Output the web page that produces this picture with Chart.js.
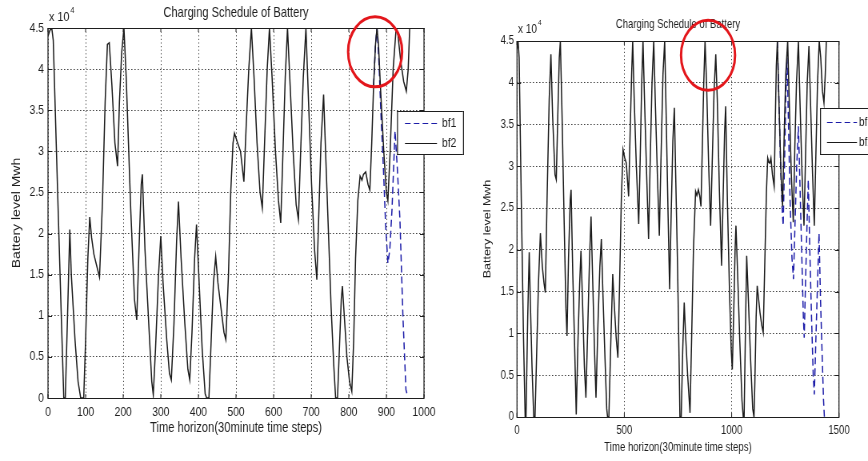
<!DOCTYPE html>
<html>
<head>
<meta charset="utf-8">
<script src="https://cdn.jsdelivr.net/npm/chart.js@4.4.1/dist/chart.umd.min.js"></script>
<style>
  html, body { margin: 0; padding: 0; background: #fff; }
  #wrap { position: relative; width: 868px; height: 461px; overflow: hidden; }
  canvas { position: absolute; top: 0; }
</style>
</head>
<body>
<div id="wrap">
  <!-- the original figure is squeezed sideways, so the canvases are drawn wider and shown narrower -->
  <canvas id="left" width="590" height="461" style="left:0;width:472px;height:461px"></canvas>
  <canvas id="right" width="495" height="461" style="left:472px;width:396px;height:461px"></canvas>
</div>
<script>
// battery level in units of 10^4 Mwh, time in 30 minute steps: [step, level]
const bf2Left = [[0,4.40],[5,4.47],[10,4.5],[14,4.35],[25,2.6],[36,0.9],[42,0],[46,0],[52,1.0],[58,2.05],
  [62,1.5],[72,0.7],[80,0.2],[87,0],[95,0],[100,0.7],[106,1.7],[111,2.2],[116,1.95],[122,1.75],[130,1.6],
  [137,1.47],[145,2.4],[152,3.6],[158,4.3],[163,4.32],[170,3.8],[178,3.1],[185,2.82],[190,3.6],[196,4.2],
  [202,4.5],[208,3.9],[220,2.3],[230,1.2],[236,0.95],[242,1.8],[248,2.6],[251,2.72],[258,1.8],[268,0.9],
  [276,0.2],[280,0.04],[286,0.6],[294,1.5],[300,1.97],[306,1.4],[316,0.7],[323,0.3],[328,0.22],[335,0.9],
  [342,1.9],[347,2.39],[354,1.7],[364,0.9],[372,0.35],[377,0.22],[383,0.8],[390,1.7],[395,2.11],[402,1.4],
  [410,0.6],[418,0.05],[422,0],[428,0],[434,0.7],[440,1.4],[446,1.72],[452,1.4],[460,1.1],[468,0.8],
  [473,0.71],[480,1.5],[486,2.5],[492,3.1],[496,3.22],[503,3.12],[512,3.0],[521,2.63],[527,3.3],[534,4.0],
  [541,4.5],[548,3.9],[556,3.1],[564,2.5],[570,2.31],[576,3.1],[583,4.0],[589,4.5],[596,3.9],[605,3.0],
  [613,2.4],[619,2.13],[625,3.0],[631,3.9],[637,4.5],[644,3.8],[652,3.0],[660,2.35],[666,2.17],[672,3.0],
  [679,3.9],[686,4.5],[693,3.6],[701,2.6],[709,1.8],[715,1.44],[720,2.2],[726,3.1],[733,3.69],[739,2.9],
  [746,2.0],[753,1.1],[760,0.4],[765,0],[770,0],[775,0.6],[780,1.2],[783,1.36],[788,1.0],[795,0.5],
  [802,0.2],[808,0.08],[813,0.7],[818,1.7],[824,2.4],[830,2.7],[835,2.65],[839,2.72],[845,2.75],[851,2.6],
  [856,2.53],[861,3.1],[866,3.8],[871,4.3],[875,4.5],[879,4.3],[884,3.8],[893,3.0],[900,2.5],[904,2.4],
  [910,3.0],[918,4.0],[926,4.5],[930,4.45],[938,4.1],[946,3.85],[953,3.73],[958,4.0],[962,4.5]];

const bf1Left = [[866,3.8],[871,4.3],[875,4.5],[880,4.1],[886,3.4],[892,2.8],[898,2.1],[904,1.64],
  [909,1.8],[915,2.3],[923,3.25],[929,2.8],[936,2.17],[944,0.99],[952,0.1],[955,0.05]];

const bf2Right = [[0,4.4],[5,4.5],[10,4.3],[20,2.6],[30,1.0],[38,0],[42,0],[50,1.2],[57,1.97],[62,1.4],
  [70,0.6],[78,0],[84,0],[92,0.8],[100,1.6],[109,2.2],[118,1.8],[126,1.6],[132,1.49],[140,2.6],[150,3.8],
  [158,4.34],[166,3.6],[177,2.9],[183,2.84],[190,3.6],[197,4.3],[202,4.5],[210,3.6],[220,2.3],[228,1.3],
  [233,0.97],[240,1.9],[248,2.6],[252,2.72],[260,1.7],[268,0.9],[276,0.03],[284,0.9],[292,1.6],[298,1.99],
  [305,1.4],[314,0.6],[321,0.23],[330,1.1],[338,1.9],[345,2.4],[352,1.7],[361,0.8],[368,0.23],[377,1.1],
  [386,1.8],[393,2.13],[400,1.5],[410,0.7],[418,0.1],[422,0],[428,0],[436,0.8],[446,1.71],[452,1.4],
  [462,0.95],[470,0.71],[478,1.6],[486,2.6],[494,3.2],[502,3.1],[509,3.04],[520,2.64],[527,3.4],[534,4.1],
  [539,4.5],[546,3.8],[556,3.0],[567,2.31],[574,3.1],[581,4.0],[587,4.5],[594,3.8],[604,2.9],[613,2.13],
  [620,3.0],[629,4.0],[637,4.5],[644,3.8],[654,2.9],[663,2.17],[670,3.0],[680,4.1],[688,4.5],[695,3.6],
  [704,2.4],[711,1.53],[718,2.4],[726,3.3],[733,3.70],[740,2.8],[748,1.8],[755,0.7],[759,0],[765,0],
  [772,0.8],[779,1.37],[785,1.0],[795,0.5],[806,0.05],[814,1.0],[822,2.0],[832,2.7],[838,2.65],[845,2.72],
  [851,2.65],[857,2.52],[864,3.3],[870,4.0],[876,4.5],[883,4.0],[893,3.0],[902,2.29],[909,3.0],[918,3.9],
  [926,4.34],[933,3.8],[943,2.7],[953,1.81],[960,2.6],[967,3.4],[972,3.72],[980,2.6],[990,1.5],[998,0.8],
  [1003,0.57],[1010,1.3],[1016,2.0],[1020,2.29],[1028,1.7],[1038,0.9],[1048,0.2],[1054,0],[1058,0],
  [1064,1.0],[1070,1.93],[1078,1.4],[1088,0.7],[1098,0.1],[1104,0],[1108,0.4],[1114,1.2],[1119,1.57],
  [1126,1.4],[1132,1.25],[1140,1.1],[1147,1.01],[1154,1.8],[1162,2.7],[1168,3.1],[1173,3.05],[1178,3.04],
  [1183,3.1],[1190,2.9],[1198,2.76],[1203,3.5],[1208,4.2],[1213,4.5],[1220,3.8],[1230,2.9],[1237,2.52],
  [1244,3.3],[1252,4.1],[1261,4.5],[1268,3.8],[1278,2.9],[1287,2.33],[1294,3.2],[1302,4.0],[1311,4.5],
  [1318,3.8],[1328,2.9],[1337,2.29],[1344,3.1],[1352,4.0],[1360,4.44],[1367,3.8],[1377,2.9],[1385,2.29],
  [1392,3.1],[1400,4.0],[1408,4.5],[1415,4.3],[1423,3.9],[1430,3.76],[1436,4.1],[1441,4.5]];

const bf1Right = [[1213,4.5],[1220,3.8],[1228,3.0],[1235,2.5],[1240,2.29],[1246,3.0],[1252,3.8],[1258,4.3],
  [1264,3.6],[1272,2.6],[1281,1.9],[1288,1.65],[1295,2.3],[1303,3.0],[1311,3.48],[1318,2.8],[1327,1.9],
  [1334,1.2],[1338,0.95],[1344,1.6],[1351,2.3],[1357,2.84],[1364,2.0],[1372,1.2],[1380,0.5],[1385,0.27],
  [1392,0.9],[1400,1.6],[1407,2.2],[1414,1.4],[1422,0.7],[1428,0.2],[1432,0]];

const seriesNames = ['bf1', 'bf2'];
const chartTitle = 'Charging Schedule of Battery';
const xTitle = 'Time horizon(30minute time steps)';
const yTitle = 'Battery level Mwh';
const yMax = 4.5, yStep = 0.5;

const SX = 1.25; // canvas px per screen px, sideways only
const FONT = '"Liberation Sans", Arial, Helvetica, sans-serif';
const INK = '#1e1e1e';
const BLUE = '#1c1ca8';

// matlab style frame: box, inner ticks, titles, legend and the red highlight
const matlabLook = {
  id: 'matlabLook',
  afterDraw(chart, args, o) {
    const { ctx, chartArea: a, scales: { x, y } } = chart;
    ctx.save();
    ctx.strokeStyle = INK;
    ctx.setLineDash([]);
    ctx.lineWidth = 1;
    ctx.beginPath();
    x.ticks.forEach(t => {
      const px = x.getPixelForValue(t.value);
      ctx.moveTo(px, a.bottom); ctx.lineTo(px, a.bottom - 4);
      ctx.moveTo(px, a.top); ctx.lineTo(px, a.top + 4);
    });
    y.ticks.forEach(t => {
      const py = Math.round(y.getPixelForValue(t.value)) + 0.5;
      ctx.moveTo(a.left, py); ctx.lineTo(a.left + 4 * SX, py);
      ctx.moveTo(a.right, py); ctx.lineTo(a.right - 4 * SX, py);
    });
    ctx.stroke();
    // box, sides a screen pixel wide
    ctx.lineWidth = 1;
    ctx.beginPath();
    ctx.moveTo(a.left, Math.round(a.top) + 0.5); ctx.lineTo(a.right, Math.round(a.top) + 0.5);
    ctx.moveTo(a.left, Math.round(a.bottom) + 0.5); ctx.lineTo(a.right, Math.round(a.bottom) + 0.5);
    ctx.stroke();
    ctx.lineWidth = SX;
    ctx.beginPath();
    ctx.moveTo(a.left, a.top); ctx.lineTo(a.left, a.bottom + 1);
    ctx.moveTo(a.right, a.top); ctx.lineTo(a.right, a.bottom + 1);
    ctx.stroke();

    // texts
    ctx.fillStyle = INK;
    ctx.textAlign = 'center';
    ctx.textBaseline = 'middle';
    ctx.font = o.titleSize + 'px ' + FONT;
    ctx.fillText(chartTitle, (a.left + a.right) / 2, a.top - o.titleGap);
    ctx.font = o.labelSize + 'px ' + FONT;
    ctx.fillText(xTitle, (a.left + a.right) / 2, a.bottom + o.xTitleGap);
    ctx.save();
    ctx.translate(a.left - o.yTitleGap * SX, (a.top + a.bottom) / 2);
    ctx.rotate(-Math.PI / 2);
    ctx.font = o.yLabelSize + 'px ' + FONT;
    ctx.fillText(yTitle, 0, 0);
    ctx.restore();

    // exponent label
    ctx.textAlign = 'left';
    ctx.textBaseline = 'alphabetic';
    ctx.font = o.expSize + 'px ' + FONT;
    ctx.fillText('x 10', a.left + SX, a.top - o.expGap);
    const w = ctx.measureText('x 10').width;
    ctx.font = (o.expSize - 4.5) + 'px ' + FONT;
    ctx.fillText('4', a.left + 2 * SX + w, a.top - o.expGap - 8);

    // legend
    const L = o.legend;
    const lx = v => v * SX;
    ctx.fillStyle = '#fff';
    ctx.fillRect(lx(L.left), L.top, lx(L.right - L.left), L.bottom - L.top);
    ctx.strokeStyle = INK;
    ctx.lineWidth = 1;
    ctx.beginPath();
    ctx.moveTo(lx(L.left), L.top + 0.5); ctx.lineTo(lx(L.right), L.top + 0.5);
    ctx.moveTo(lx(L.left), L.bottom + 0.5); ctx.lineTo(lx(L.right), L.bottom + 0.5);
    ctx.stroke();
    ctx.lineWidth = SX;
    ctx.beginPath();
    ctx.moveTo(lx(L.left + 0.5), L.top); ctx.lineTo(lx(L.left + 0.5), L.bottom + 1);
    ctx.moveTo(lx(L.right + 0.5), L.top); ctx.lineTo(lx(L.right + 0.5), L.bottom + 1);
    ctx.stroke();
    const rows = [L.row1, L.row2];
    chart.data.datasets.forEach((ds, i) => {
      const ry = rows[i] + 0.5;
      ctx.strokeStyle = ds.borderColor;
      ctx.lineWidth = 1.2;
      ctx.setLineDash(ds.borderDash || []);
      ctx.beginPath();
      ctx.moveTo(lx(L.lineFrom), ry); ctx.lineTo(lx(L.lineTo), ry);
      ctx.stroke();
      ctx.setLineDash([]);
      ctx.fillStyle = INK;
      ctx.textBaseline = 'middle';
      ctx.font = o.legendSize + 'px ' + FONT;
      ctx.fillText(ds.label, lx(L.textX), ry);
    });

    // red highlight ring
    const c = o.ring;
    ctx.strokeStyle = '#e3161b';
    ctx.lineWidth = 3;
    ctx.beginPath();
    ctx.ellipse(x.getPixelForValue(c.at[0]), y.getPixelForValue(c.at[1]), c.rx * SX, c.ry, 0, 0, Math.PI * 2);
    ctx.stroke();
    ctx.restore();
  }
};

function makeChart(id, bf1, bf2, xMax, xStep, look) {
  const toPts = arr => arr.map(p => ({ x: p[0], y: p[1] }));
  return new Chart(document.getElementById(id), {
    type: 'line',
    data: {
      datasets: [
        { label: seriesNames[0], data: toPts(bf1), borderColor: BLUE, borderWidth: 1.5,
          borderDash: [7, 4], pointRadius: 0, tension: 0, order: 1 },
        { label: seriesNames[1], data: toPts(bf2), borderColor: '#1a1a1a', borderWidth: 1.5,
          pointRadius: 0, tension: 0, order: 0 }
      ]
    },
    options: {
      responsive: false,
      animation: false,
      events: [],
      layout: { padding: { top: look.top, right: look.right * SX, left: 0, bottom: 0 } },
      plugins: { legend: { display: false }, tooltip: { enabled: false }, matlabLook: look },
      scales: {
        x: {
          type: 'linear', min: 0, max: xMax,
          afterFit: s => { s.height = look.xAxisHeight; },
          ticks: { stepSize: xStep, autoSkip: false, maxRotation: 0, padding: look.xTickPad,
            color: INK, font: { family: FONT, size: look.tickSize }, callback: v => String(v) },
          grid: { color: '#404040', lineWidth: 1, drawTicks: false },
          border: { display: false, dash: [1.2, 2.4] }
        },
        y: {
          type: 'linear', min: 0, max: yMax,
          afterFit: s => { s.width = look.yAxisWidth * SX; },
          ticks: { stepSize: yStep, autoSkip: false, padding: look.yTickPad * SX,
            color: INK, font: { family: FONT, size: look.tickSize }, callback: v => String(v) },
          grid: { color: '#404040', lineWidth: 1, drawTicks: false },
          border: { display: false, dash: [1.6, 2.4] }
        }
      }
    },
    plugins: [matlabLook]
  });
}

// sizes below are screen pixels; sideways ones get SX inside
makeChart('left', bf1Left, bf2Left, 1000, 100, {
  top: 28, right: 48, xAxisHeight: 63, yAxisWidth: 48, xTickPad: 7, yTickPad: 4,
  tickSize: 13, titleSize: 13.9, labelSize: 14, yLabelSize: 14, expSize: 13.5, legendSize: 13,
  titleGap: 15, xTitleGap: 30, yTitleGap: 31, expGap: 7,
  legend: { left: 397, top: 111, right: 463, bottom: 154, row1: 123, row2: 143,
            lineFrom: 405, lineTo: 437, textX: 442 },
  ring: { at: [870, 4.21], rx: 27, ry: 35 }
});

makeChart('right', bf1Right, bf2Right, 1500, 500, {
  top: 41, right: 29, xAxisHeight: 44, yAxisWidth: 45, xTickPad: 6, yTickPad: 3,
  tickSize: 12, titleSize: 11.9, labelSize: 12, yLabelSize: 12.5, expSize: 12.5, legendSize: 12.5,
  titleGap: 16, xTitleGap: 31, yTitleGap: 29, expGap: 8,
  legend: { left: 348, top: 108, right: 420, bottom: 154, row1: 122, row2: 142,
            lineFrom: 355, lineTo: 385, textX: 387 },
  ring: { at: [890, 4.33], rx: 27, ry: 35 }
});
</script>
</body>
</html>
